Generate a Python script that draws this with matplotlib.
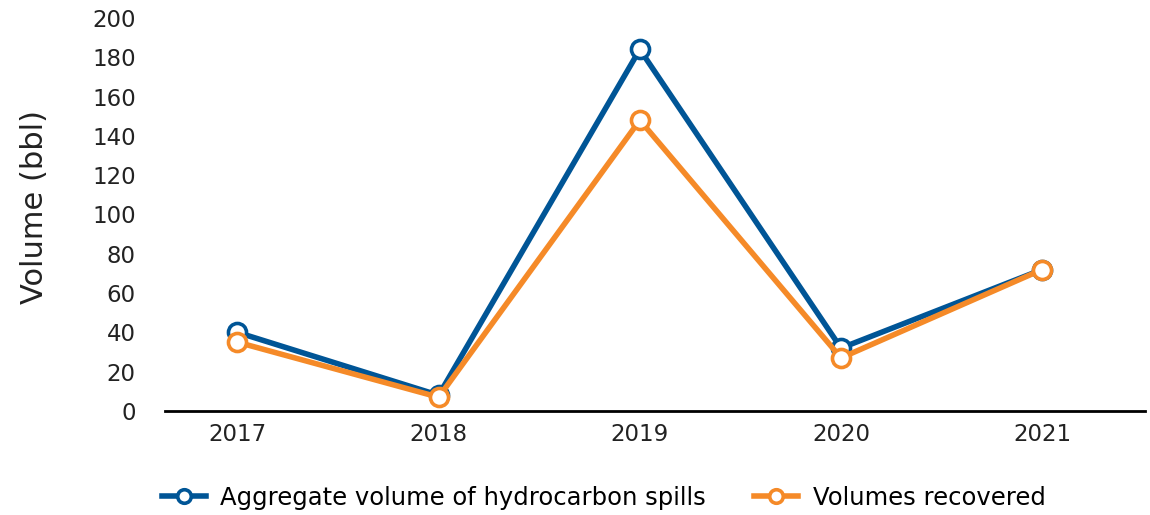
import matplotlib.pyplot as plt

plt.rcParams['font.family'] = ['DejaVu Sans']

years = ['2017', '2018', '2019', '2020', '2021']
aggregate = [40, 8, 184, 32, 72]
recovered = [35, 7, 148, 27, 72]

blue = '#005596'
orange = '#F58A28'

fig = plt.figure(figsize=(11.5, 5.15), dpi=100)
ax = fig.add_axes([0.1435, 0.202, 0.852, 0.763])

x = list(range(len(years)))
ax.plot(x, aggregate, color=blue, lw=4, marker='o', ms=13, mfc='white',
        mec=blue, mew=2.6, label='Aggregate volume of hydrocarbon spills', zorder=3)
ax.plot(x, recovered, color=orange, lw=4, marker='o', ms=13, mfc='white',
        mec=orange, mew=2.6, label='Volumes recovered', zorder=4)

ax.set_xlim(-0.36, 4.51)
ax.set_ylim(0, 200)
ax.set_yticks(range(0, 201, 20))
ax.set_xticks(x)
ax.set_xticklabels(years)
ax.tick_params(axis='both', length=0, labelsize=16.5, colors='#222222')
ax.tick_params(axis='y', pad=21)
ax.tick_params(axis='x', pad=9)
for s in ['top', 'right', 'left']:
    ax.spines[s].set_visible(False)
ax.spines['bottom'].set_linewidth(2)
ax.spines['bottom'].set_color('black')
ax.set_ylabel('Volume (bbl)', fontsize=22, color='#222222', labelpad=33)
ax.yaxis.set_label_coords(-0.118, 0.52)

fig.legend(loc='center', bbox_to_anchor=(0.525, 0.033), ncol=2, frameon=False,
           fontsize=17.5, handlelength=1.8, handletextpad=0.6, columnspacing=2.0,
           markerscale=0.75)

fig.savefig('out.png')
